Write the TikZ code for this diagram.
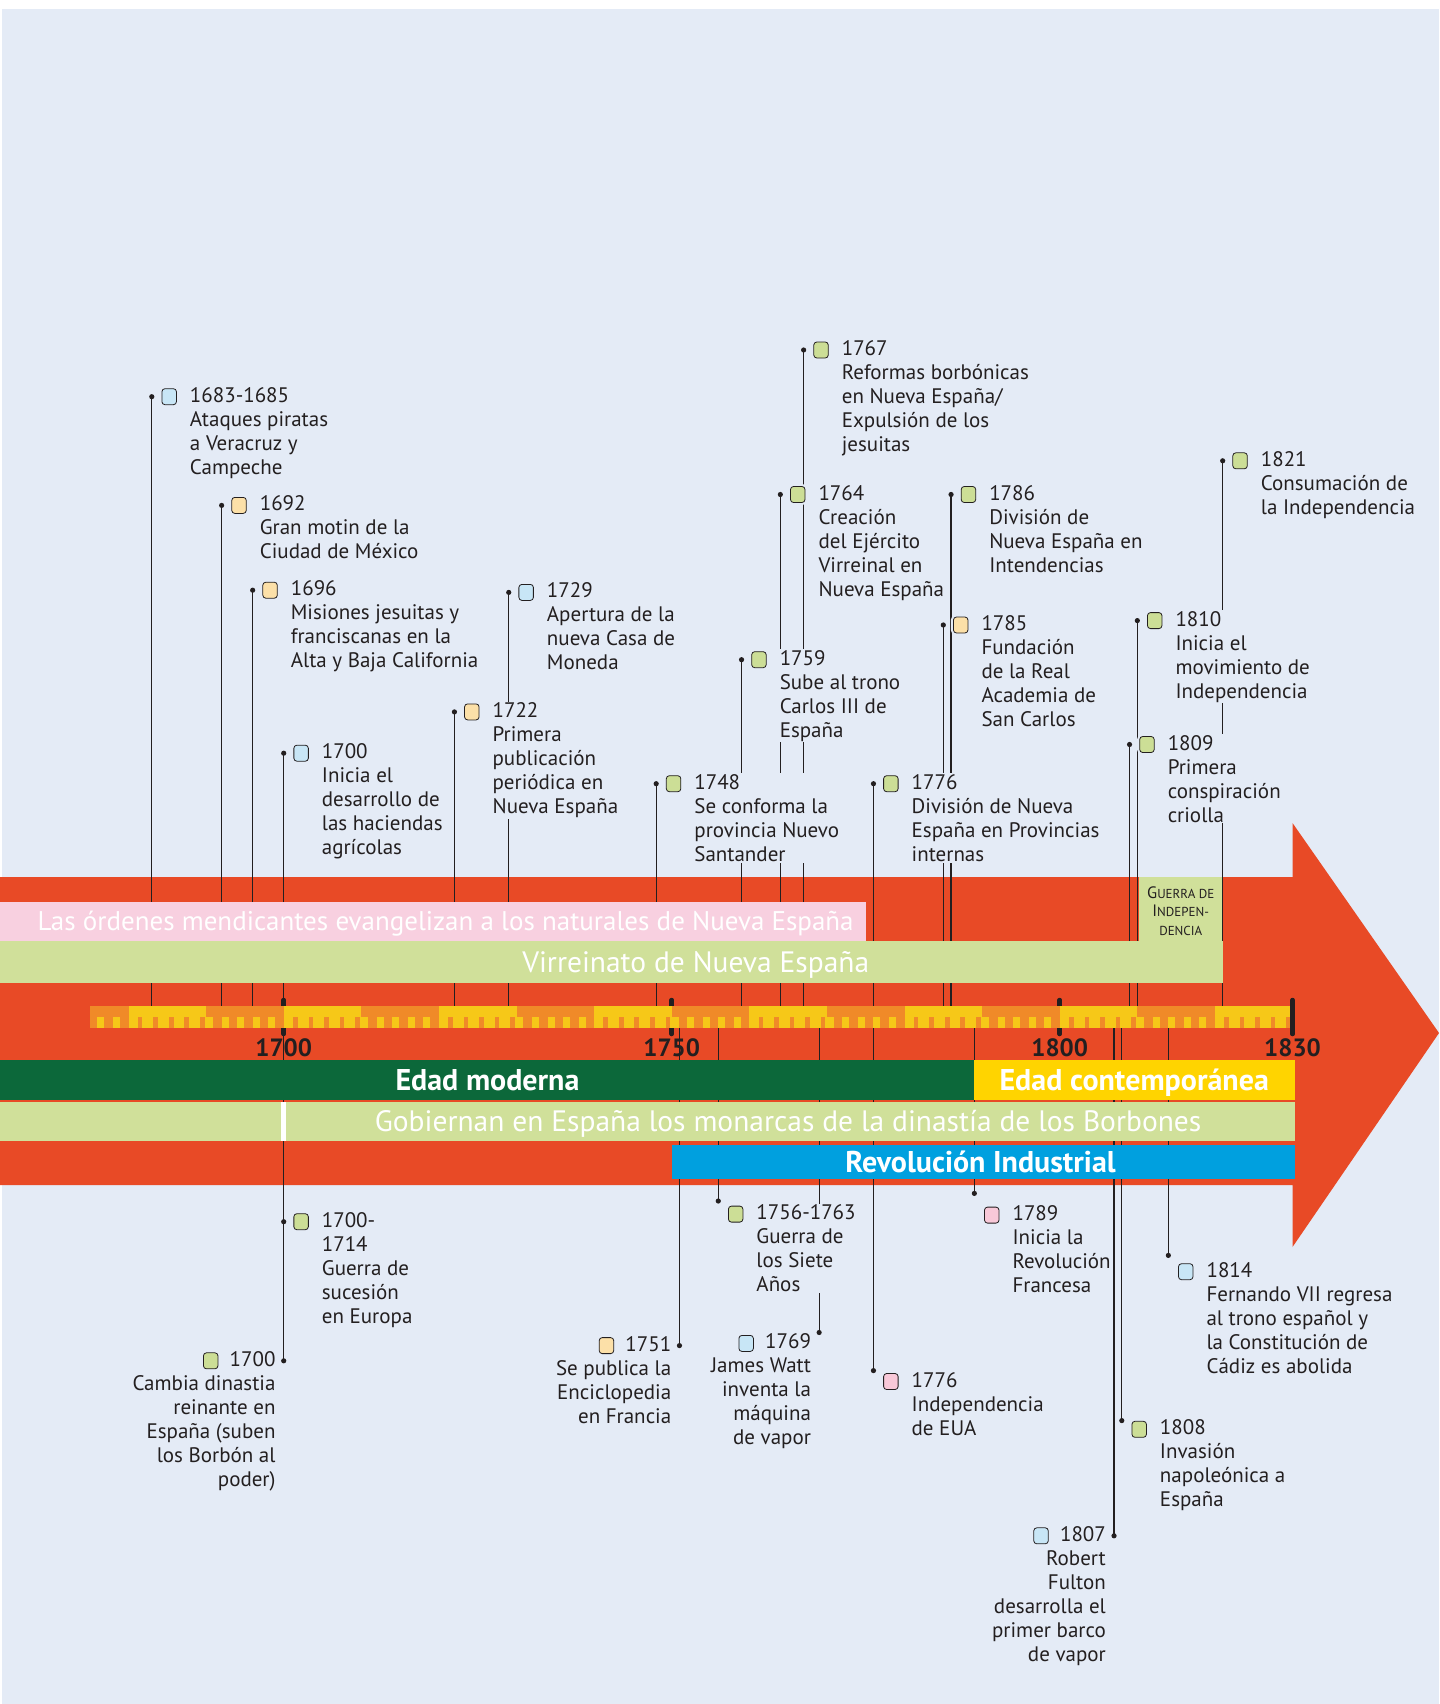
\documentclass[tikz,border=0pt]{standalone}
\usepackage{fontspec}
\setmainfont{PT Sans}
\usetikzlibrary{positioning}

\definecolor{bg}{RGB}{228,235,246}
\definecolor{arrowred}{RGB}{232,74,38}
\definecolor{bandpink}{RGB}{248,208,224}
\definecolor{bandgreen}{RGB}{208,224,154}
\definecolor{modgreen}{RGB}{12,104,58}
\definecolor{contyellow}{RGB}{255,212,0}
\definecolor{indblue}{RGB}{0,160,223}
\definecolor{rulorange}{RGB}{240,138,40}
\definecolor{rulyellow}{RGB}{246,200,24}
\definecolor{ink}{RGB}{35,31,32}
\definecolor{icblue}{RGB}{200,230,246}
\definecolor{icpeach}{RGB}{252,224,168}
\definecolor{icgreen}{RGB}{204,222,150}
\definecolor{icpink}{RGB}{248,200,216}

\newcommand{\evfont}{\fontsize{21}{24}\selectfont}
\newcommand{\bandfont}{\fontsize{29.5}{34}\selectfont}
% event label to the right of its line: x (years after 1700), y of year row, icon colour, name, text
\newcommand{\evright}[5]{%
  \node[evtext, anchor=north west] (#4) at ([xshift=37pt, yshift=10.6pt]#1,#2) {#5};
  \node[icon, fill=#3] (#4i) at ([xshift=17.4pt]#1,#2) {};}
% event label to the left of its line
\newcommand{\evleft}[5]{%
  \node[evtext, align=right, anchor=north east] (#4) at ([xshift=-7pt, yshift=10.6pt]#1,#2) {#5};
  \node[icon, fill=#3] (#4i) at ([xshift=-73pt]#1,#2) {};}

\begin{document}
\begin{tikzpicture}[x=7.76pt, y=-1pt,
    evline/.style={draw=ink, line width=1.2pt},
    tickbar/.style={draw=ink, line width=4.5pt, line cap=round},
    icon/.style={draw=ink, line width=0.8pt, rounded corners=3pt, minimum width=14.5pt, minimum height=16pt, inner sep=0pt, preaction={draw=bg, line width=5pt}},
    evtext/.style={font=\evfont, text=ink, fill=bg, inner sep=1pt, align=left, execute at begin node={\rule{0pt}{17pt}}},
    bandtext/.style={font=\bandfont, text=white, inner sep=0pt, text height=20pt, text depth=0pt},
    bandbold/.style={bandtext, font=\fontsize{30}{34}\selectfont\bfseries},
    yearlabel/.style={font=\fontsize{25}{28}\selectfont\bfseries, text=ink, inner sep=0pt, text height=17pt, text depth=0pt}]
    \useasboundingbox (-36.56,0) rectangle (148.88,1704);
    % Background and arrow
    \fill[white] (-36.56,0) rectangle (148.88,1704);
    \fill[bg] (-36.28,8.7) rectangle (148.88,1704);
    \fill[arrowred] (-36.56,877) -- (130,877) -- (130,823) -- (148.88,1033) -- (130,1247) -- (130,1185) -- (-36.56,1185) -- cycle;
    \fill[bandgreen] (110.2,877) rectangle (121,941);
    \node[font=\fontsize{13}{18.5}\selectfont, text=ink, align=center, inner sep=0pt] (guerra) at (115.6,911)
        {{\fontsize{16.5}{18.5}\selectfont G}UERRA DE\\{\fontsize{16.5}{18.5}\selectfont I}NDEPEN-\\DENCIA};
    % Event anchors (upper)
    \coordinate (rultop) at (0,1006);
    \coordinate (rulbot) at (0,1028);
    \coordinate (e1683) at (-17,396.7);
    \coordinate (e1692) at (-8,505.4);
    \coordinate (e1696) at (-4,590.2);
    \coordinate (e1700a) at (0,753.2);
    \coordinate (e1722) at (22,711.9);
    \coordinate (e1729) at (29,592.4);
    \coordinate (e1748) at (48,783.7);
    \coordinate (e1759) at (59,659.7);
    \coordinate (e1764) at (64,494.5);
    \coordinate (e1767) at (67,350.0);
    \coordinate (e1776a) at (76,783.7);
    \coordinate (e1785) at (85,625.0);
    \coordinate (e1786) at (86,494.5);
    \coordinate (e1809) at (109,744.5);
    \coordinate (e1810) at (110,620.6);
    \coordinate (e1821) at (121,460.8);
    % Event anchors (lower)
    \coordinate (e1700b) at (0,1221.7);
    \coordinate (e1700c) at (0,1360.8);
    \coordinate (e1751) at (51,1345.6);
    \coordinate (e1756) at (56,1201.0);
    \coordinate (e1769) at (69,1332.5);
    \coordinate (e1776b) at (76,1370.6);
    \coordinate (e1789) at (89,1193.4);
    \coordinate (e1807) at (107,1535.8);
    \coordinate (e1808) at (108,1420.6);
    \coordinate (e1814) at (114,1255.4);
    % Ticks and event lines
    \foreach \t in {0,50,100} \draw[tickbar] (\t,1000) -- (\t,1034);
    \foreach \e in {e1683,e1692,e1696,e1700a,e1722,e1729,e1748,e1759,e1764,e1767,e1776a,e1785,e1786,e1809,e1810,e1821}
        \draw[evline] (\e) -- (\e |- rultop);
    \foreach \e in {e1700b,e1700c,e1751,e1756,e1769,e1776b,e1789,e1807,e1808,e1814}
        \draw[evline] (\e |- rulbot) -- (\e);
    % Bands
    \fill[bandpink] (-36.56,902) rectangle (75,941);
    \fill[bandgreen] (-36.56,941) rectangle (121,983);
    \fill[modgreen] (-36.56,1060) rectangle (89,1100);
    \fill[contyellow] (89,1060) rectangle (130.3,1100);
    \fill[bandgreen] (-36.56,1102) rectangle (130.3,1141);
    \draw[white, line width=5pt] (0,1102) -- (0,1141);
    \fill[indblue] (50,1144.5) rectangle (130.3,1179);
    \node[bandtext, font=\fontsize{27}{31}\selectfont, text height=18.5pt] (mendicantes) at (20.86,921.5) {Las órdenes mendicantes evangelizan a los naturales de Nueva España};
    \node[bandtext] (virreinato) at (53.1,962) {Virreinato de Nueva España};
    \node[bandbold] (moderna) at (26.26,1080) {Edad moderna};
    \node[bandbold] (contemporanea) at (109.6,1080) {Edad contemporánea};
    \node[bandtext] (borbones) at (65,1121.5) {Gobiernan en España los monarcas de la dinastía de los Borbones};
    \node[bandbold] (industrial) at (89.8,1162) {Revolución Industrial};
    % Ruler
    \fill[rulorange] (-25,1006) rectangle (130,1028);
    \foreach \d in {-20,0,...,120} \fill[rulyellow] (\d,1006) rectangle (\d+10,1028);
    \foreach \k in {-24,-22,...,128} \fill[rulyellow] (\k,1016.5) rectangle (\k+0.9,1028);
    \foreach \k in {-25,-23,...,129} \fill[rulorange] (\k+0.2,1016.5) rectangle (\k+0.8,1028);
    \draw[tickbar] (130,1000) -- (130,1034);
    \node[yearlabel] (y1700) at (0,1048) {1700};
    \node[yearlabel] (y1750) at (50,1048) {1750};
    \node[yearlabel] (y1800) at (100,1048) {1800};
    \node[yearlabel] (y1830) at (130,1048) {1830};
    % Upper events
    \evright{-17}{396.7}{icblue}{t1683}{1683-1685\\Ataques piratas\\a Veracruz y\\Campeche}
    \evright{-8}{505.4}{icpeach}{t1692}{1692\\Gran motin de la\\Ciudad de México}
    \evright{-4}{590.2}{icpeach}{t1696}{1696\\Misiones jesuitas y\\franciscanas en la\\Alta y Baja California}
    \evright{0}{753.2}{icblue}{t1700a}{1700\\Inicia el\\desarrollo de\\las haciendas\\agrícolas}
    \evright{22}{711.9}{icpeach}{t1722}{1722\\Primera\\publicación\\periódica en\\Nueva España}
    \evright{29}{592.4}{icblue}{t1729}{1729\\Apertura de la\\nueva Casa de\\Moneda}
    \evright{48}{783.7}{icgreen}{t1748}{1748\\Se conforma la\\provincia Nuevo\\Santander}
    \evright{59}{659.7}{icgreen}{t1759}{1759\\Sube al trono\\Carlos III de\\España}
    \evright{64}{494.5}{icgreen}{t1764}{1764\\Creación\\del Ejército\\Virreinal en\\Nueva España}
    \evright{67}{350.0}{icgreen}{t1767}{1767\\Reformas borbónicas\\en Nueva España/\\Expulsión de los\\jesuitas}
    \evright{76}{783.7}{icgreen}{t1776a}{1776\\División de Nueva\\España en Provincias\\internas}
    \evright{85}{625.0}{icpeach}{t1785}{1785\\Fundación\\de la Real\\Academia de\\San Carlos}
    \evright{86}{494.5}{icgreen}{t1786}{1786\\División de\\Nueva España en\\Intendencias}
    \evright{109}{744.5}{icgreen}{t1809}{1809\\Primera\\conspiración\\criolla}
    \evright{110}{620.6}{icgreen}{t1810}{1810\\Inicia el\\movimiento de\\Independencia}
    \evright{121}{460.8}{icgreen}{t1821}{1821\\Consumación de\\la Independencia}
    % Lower events
    \evright{0}{1221.7}{icgreen}{t1700b}{1700-\\1714\\Guerra de\\sucesión\\en Europa}
    \evleft{0}{1360.8}{icgreen}{t1700c}{1700\\Cambia dinastia\\reinante en\\España (suben\\los Borbón al\\poder)}
    \evleft{51}{1345.6}{icpeach}{t1751}{1751\\Se publica la\\Enciclopedia\\en Francia}
    \evright{56}{1214.1}{icgreen}{t1756}{1756-1763\\Guerra de\\los Siete\\Años}
    \evleft{69}{1343.4}{icblue}{t1769}{1769\\James Watt\\inventa la\\máquina\\de vapor}
    \evright{76}{1381.5}{icpink}{t1776b}{1776\\Independencia\\de EUA}
    \evright{89}{1215.1}{icpink}{t1789}{1789\\Inicia la\\Revolución\\Francesa}
    \evleft{107}{1535.8}{icblue}{t1807}{1807\\Robert\\Fulton\\desarrolla el\\primer barco\\de vapor}
    \evright{108}{1429.3}{icgreen}{t1808}{1808\\Invasión\\napoleónica a\\España}
    \evright{114}{1271.7}{icblue}{t1814}{1814\\Fernando VII regresa\\al trono español y\\la Constitución de\\Cádiz es abolida}
    % Dots at the free ends
    \foreach \e in {e1683,e1692,e1696,e1700a,e1722,e1729,e1748,e1759,e1764,e1767,e1776a,e1785,e1786,e1809,e1810,e1821,e1700b,e1700c,e1751,e1756,e1769,e1776b,e1789,e1807,e1808,e1814}
        \fill[ink] (\e) circle (2.6pt);
\end{tikzpicture}
\end{document}
